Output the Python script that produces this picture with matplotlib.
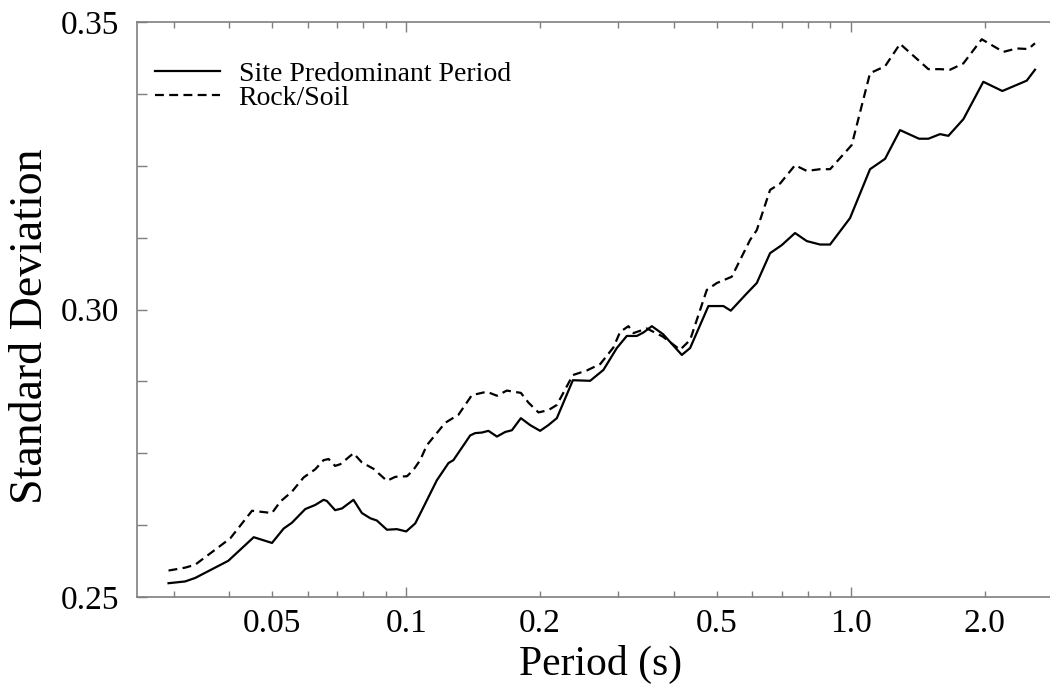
import matplotlib
matplotlib.use("Agg")
import matplotlib.pyplot as plt
from matplotlib.ticker import FixedLocator, FuncFormatter, MultipleLocator, NullFormatter

# =========================
# Data
# =========================
period_site = [0.0292, 0.0318, 0.0335, 0.0398, 0.0454, 0.0499, 0.0530, 0.0553, 0.0593, 0.0624,
               0.0652, 0.0663, 0.0692, 0.0717, 0.0761, 0.0795, 0.0830, 0.0859, 0.0905, 0.0953,
               0.1000, 0.1048, 0.1085, 0.1172, 0.1245, 0.1277, 0.1393, 0.1429, 0.1480, 0.1531,
               0.1600, 0.1670, 0.1729, 0.1811, 0.1900, 0.2001, 0.2089, 0.2182, 0.2371, 0.2593,
               0.2778, 0.2977, 0.3135, 0.3302, 0.3417, 0.3569, 0.3784, 0.4169, 0.4352, 0.4784,
               0.5171, 0.5372, 0.5837, 0.6146, 0.6585, 0.6996, 0.7494, 0.7963, 0.8531, 0.8985,
               0.9963, 1.105, 1.1945, 1.291, 1.424, 1.495, 1.588, 1.658, 1.792, 1.987,
               2.193, 2.488, 2.597]
sd_site = [0.2524, 0.2527, 0.2533, 0.2563, 0.2604, 0.2594, 0.2619, 0.2629, 0.2653, 0.2660,
           0.2669, 0.2667, 0.2651, 0.2654, 0.2669, 0.2646, 0.2637, 0.2633, 0.2617, 0.2618,
           0.2614, 0.2628, 0.2651, 0.2703, 0.2733, 0.2738, 0.2781, 0.2785, 0.2786, 0.2789,
           0.2779, 0.2787, 0.2790, 0.2811, 0.2799, 0.2789, 0.2799, 0.2811, 0.2877, 0.2876,
           0.2895, 0.2933, 0.2954, 0.2954, 0.2960, 0.2971, 0.2957, 0.2921, 0.2933, 0.3006,
           0.3006, 0.2998, 0.3028, 0.3046, 0.3098, 0.3112, 0.3133, 0.3119, 0.3113, 0.3113,
           0.3159, 0.3244, 0.3262, 0.3312, 0.3297, 0.3297, 0.3305, 0.3302, 0.3331, 0.3396,
           0.3380, 0.3398, 0.3417]

period_rock = [0.0292, 0.0318, 0.0335, 0.0402, 0.0450, 0.0499, 0.0521, 0.0553, 0.0588, 0.0624,
               0.0652, 0.0669, 0.0692, 0.0711, 0.0761, 0.0795, 0.0844, 0.0905, 0.0945, 0.1004,
               0.1038, 0.1075, 0.1113, 0.1224, 0.1311, 0.1405, 0.1518, 0.1600, 0.1684, 0.1811,
               0.1884, 0.1984, 0.2089, 0.2182, 0.2371, 0.2549, 0.2731, 0.2925, 0.3028, 0.3162,
               0.3245, 0.3478, 0.3775, 0.4132, 0.4352, 0.4744, 0.4996, 0.5399, 0.5937, 0.6146,
               0.6585, 0.6934, 0.7494, 0.7963, 0.8531, 0.8985, 1.005, 1.105, 1.1945, 1.291,
               1.495, 1.588, 1.673, 1.792, 1.971, 2.204, 2.362, 2.508, 2.597]
sd_rock = [0.2546, 0.2551, 0.2556, 0.2602, 0.2650, 0.2646, 0.2666, 0.2683, 0.2708, 0.2722,
           0.2738, 0.2740, 0.2728, 0.2731, 0.2750, 0.2734, 0.2723, 0.2702, 0.2709, 0.2710,
           0.2721, 0.2738, 0.2764, 0.2803, 0.2817, 0.2851, 0.2857, 0.2850, 0.2859, 0.2855,
           0.2838, 0.2821, 0.2825, 0.2834, 0.2886, 0.2894, 0.2905, 0.2934, 0.2961, 0.2971,
           0.2959, 0.2967, 0.2953, 0.2930, 0.2947, 0.3034, 0.3046, 0.3057, 0.3121, 0.3138,
           0.3208, 0.3219, 0.3251, 0.3241, 0.3244, 0.3244, 0.3286, 0.3411, 0.3423, 0.3462,
           0.3418, 0.3418, 0.3417, 0.3428, 0.3470, 0.3448, 0.3454, 0.3453, 0.3463]

x_labelled = [0.05, 0.1, 0.2, 0.5, 1.0, 2.0]
y_major = [0.25, 0.30, 0.35]

# =========================
# Figure
# =========================
plt.rcParams["font.family"] = ["Liberation Serif", "DejaVu Serif"]

fig = plt.figure(figsize=(10.5, 6.92), dpi=100)
ax = fig.add_axes([137 / 1050, 95 / 692, 923 / 1050, 575 / 692])

ax.plot(period_site, sd_site, color="black", lw=1.6, label="Site Predominant Period")
ax.plot(period_rock, sd_rock, color="black", lw=1.6, linestyle=(0, (4, 2.4)), label="Rock/Soil")

ax.set_xscale("log")
ax.set_xlim(0.0248, 2.956)
ax.set_ylim(0.25, 0.35)

# x ticks: long at decades, short elsewhere
decades = [0.1, 1.0]
minors = [m * d for d in [0.01, 0.1, 1.0] for m in range(2, 10)]
ax.xaxis.set_major_locator(FixedLocator(decades))
ax.xaxis.set_minor_locator(FixedLocator(minors))
ax.xaxis.set_major_formatter(FuncFormatter(lambda v, p: f"{v:.1f}"))


def minor_label(v, p):
    for t in x_labelled:
        if abs(v - t) < 1e-6:
            return f"{t:.1f}" if t >= 0.1 else f"{t:.2f}"
    return ""


ax.xaxis.set_minor_formatter(FuncFormatter(minor_label))

ax.yaxis.set_major_locator(FixedLocator(y_major))
ax.yaxis.set_minor_locator(MultipleLocator(0.0125))
ax.yaxis.set_major_formatter(FuncFormatter(lambda v, p: f"{v:.2f}"))
ax.yaxis.set_minor_formatter(NullFormatter())

grey = "#7f7f7f"
for s in ax.spines.values():
    s.set_color(grey)
    s.set_linewidth(1.2)

ax.tick_params(which="both", direction="in", top=True, right=True, color=grey,
               width=1.0, labelsize=24, labelcolor="black")
ax.tick_params(axis="x", which="major", length=7.5, pad=8)
ax.tick_params(axis="x", which="minor", length=4.5, pad=8)
ax.tick_params(axis="y", which="both", length=7.2, pad=13)

ax.set_xlabel("Period (s)", fontsize=30)
ax.set_ylabel("Standard Deviation", fontsize=33)
ax.xaxis.set_label_coords(0.502, -0.083)
ax.yaxis.set_label_coords(-0.092, 0.471)

ax.legend(loc="upper left", bbox_to_anchor=(0.02, 0.932), frameon=False, fontsize=20,
          handlelength=2.34, handletextpad=0.65, labelspacing=-0.05, borderpad=0,
          borderaxespad=0)

fig.savefig("out.png", dpi=100)
